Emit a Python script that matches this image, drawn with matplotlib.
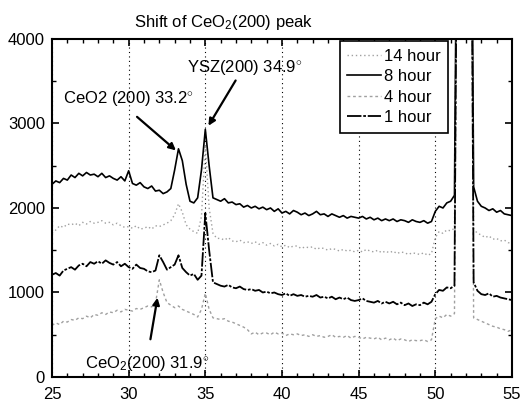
import numpy as np
import matplotlib
matplotlib.use('Agg')
import matplotlib.pyplot as plt
from matplotlib.ticker import MultipleLocator

plt.rcParams['font.family'] = 'Liberation Sans'
plt.rcParams['mathtext.fontset'] = 'custom'
plt.rcParams['mathtext.rm'] = 'Liberation Sans'
plt.rcParams['mathtext.it'] = 'Liberation Sans'

# 2-theta grid (deg), 0.25 deg steps
two_theta = np.arange(25, 55.01, 0.25)

# intensities, 4 values per degree
hour8 = [2280, 2320, 2300, 2350, 2330, 2390, 2360, 2410, 2380, 2420, 2390, 2400,
         2370, 2410, 2360, 2380, 2350, 2330, 2370, 2320, 2440, 2290, 2270, 2300,
         2250, 2230, 2260, 2200, 2210, 2170, 2190, 2230, 2450, 2700, 2560, 2280,
         2080, 2060, 2120, 2450, 2930, 2500, 2120, 2100, 2080, 2110, 2060, 2070,
         2040, 2050, 2010, 2030, 2000, 2020, 1990, 2010, 1980, 2000, 1960, 1990,
         1940, 1960, 1930, 1970, 1950, 1920, 1940, 1910, 1930, 1960, 1920, 1930,
         1900, 1930, 1910, 1890, 1910, 1880, 1900, 1890, 1880, 1900, 1870, 1890,
         1860, 1880, 1850, 1870, 1850, 1870, 1840, 1860, 1850, 1830, 1860, 1840,
         1830, 1850, 1820, 1840, 1960, 2020, 2000, 2060, 2080, 2150, 8000, 40000,
         40000, 9000, 2250, 2080, 2020, 2000, 1970, 1990, 1950, 1970, 1930, 1920,
         1910]
hour14 = [1700, 1740, 1790, 1770, 1810, 1800, 1820, 1790, 1830, 1810, 1840, 1820,
          1830, 1850, 1820, 1830, 1800, 1820, 1790, 1770, 1780, 1760, 1790, 1750,
          1760, 1780, 1750, 1790, 1780, 1800, 1820, 1850, 1920, 2050, 1950, 1800,
          1750, 1720, 1700, 1900, 2750, 2000, 1700, 1640, 1640, 1620, 1650, 1610,
          1600, 1620, 1590, 1600, 1580, 1600, 1570, 1590, 1560, 1580, 1550, 1570,
          1540, 1560, 1530, 1550, 1550, 1520, 1540, 1530, 1540, 1510, 1530, 1520,
          1500, 1520, 1510, 1490, 1510, 1490, 1500, 1480, 1500, 1480, 1510, 1490,
          1480, 1500, 1470, 1490, 1470, 1490, 1460, 1480, 1470, 1450, 1470, 1460,
          1450, 1470, 1440, 1460, 1650, 1720, 1700, 1740, 1730, 1760, 8000, 40000,
          40000, 9000, 1750, 1700, 1680, 1650, 1670, 1630, 1640, 1610, 1620, 1590,
          1580]
hour1 = [1210, 1230, 1200, 1260, 1280, 1300, 1270, 1320, 1340, 1310, 1360, 1340,
         1370, 1340, 1380, 1350, 1330, 1360, 1310, 1340, 1300, 1280, 1330, 1290,
         1280, 1250, 1240, 1260, 1440, 1360, 1270, 1300, 1330, 1440, 1290, 1240,
         1200, 1220, 1150, 1200, 1940, 1500, 1120, 1100, 1080, 1070, 1090, 1060,
         1050, 1070, 1040, 1030, 1040, 1020, 1030, 1000, 1010, 990, 1000, 980,
         970, 990, 960, 980, 960, 970, 950, 960, 950, 970, 940, 950,
         930, 950, 920, 940, 920, 940, 910, 900, 910, 930, 900, 890,
         880, 900, 870, 890, 870, 890, 860, 880, 850, 870, 840, 860,
         850, 880, 860, 890, 980, 1030, 1020, 1060, 1050, 1080, 8000, 40000,
         40000, 9000, 1120, 1020, 980, 970, 990, 950, 960, 940, 930, 920,
         910]
hour4 = [610, 640, 620, 660, 650, 680, 670, 700, 690, 720, 700, 740,
         730, 760, 740, 770, 760, 790, 770, 800, 790, 780, 810, 800,
         820, 840, 830, 870, 1150, 1000, 880, 850, 820, 840, 800, 780,
         760, 740, 710, 800, 990, 800, 700, 690, 680, 690, 660, 650,
         630, 610, 590, 560, 510, 530, 500, 520, 520, 500, 530, 510,
         520, 490, 510, 500, 510, 490, 500, 480, 500, 480, 490, 470,
         480, 500, 470, 480, 470, 490, 460, 480, 470, 450, 470, 460,
         450, 470, 440, 460, 440, 460, 430, 450, 440, 420, 440, 430,
         430, 440, 420, 440, 690, 720, 700, 740, 720, 750, 8000, 40000,
         40000, 9000, 700, 680, 660, 640, 620, 600, 590, 570, 560, 540,
         560]

fig = plt.figure(figsize=(5.23, 4.01), dpi=100)
ax = fig.add_axes([0.0994, 0.0599, 0.8795, 0.8429])

l14, = ax.plot(two_theta, hour14, color='#a0a0a0', lw=1.0, ls=(0, (1, 2)), label='14 hour')
l8, = ax.plot(two_theta, hour8, color='black', lw=1.2, label='8 hour')
l4, = ax.plot(two_theta, hour4, color='#a0a0a0', lw=1.0, ls=(0, (2, 2)), label='4 hour')
l1, = ax.plot(two_theta, hour1, color='black', lw=1.3, ls=(0, (8, 1, 1.5, 1)), label='1 hour')

ax.set_xlim(25, 55)
ax.set_ylim(0, 4000)
ax.xaxis.set_major_locator(MultipleLocator(5))
ax.xaxis.set_minor_locator(MultipleLocator(1))
ax.yaxis.set_major_locator(MultipleLocator(1000))
ax.yaxis.set_minor_locator(MultipleLocator(500))
ax.tick_params(which='both', direction='in', top=True, right=True, labelsize=12)
ax.tick_params(which='major', length=5, width=1.2)
ax.tick_params(which='minor', length=3, width=1.0)
ax.tick_params(axis='x', which='major', pad=7)
ax.tick_params(axis='y', which='major', pad=5)
for s in ax.spines.values():
    s.set_linewidth(1.5)
ax.xaxis.grid(True, which='major', ls=(0, (1, 3)), color='black', lw=0.8)

leg = ax.legend(handles=[l14, l8, l4, l1], loc='upper left', bbox_to_anchor=(0.626, 0.994),
                borderaxespad=0, fancybox=False, edgecolor='black', framealpha=1,
                fontsize=12, handlelength=2.0, handletextpad=0.2, labelspacing=0.33,
                borderpad=0.45)
leg.get_frame().set_linewidth(1.2)

arrow = dict(arrowstyle='-|>', color='black', lw=1.6, mutation_scale=10)
ax.text(25.72, 3300, r'CeO2 (200) 33.2$^{\circ}$', fontsize=12, ha='left', va='center')
ax.annotate('', xy=(33.22, 2660), xytext=(30.41, 3100), arrowprops=arrow)
ax.text(33.81, 3667, r'YSZ(200) 34.9$^{\circ}$', fontsize=12, ha='left', va='center')
ax.annotate('', xy=(35.11, 2945), xytext=(37.07, 3537), arrowprops=arrow)
ax.text(27.15, 165, r'CeO$_2$(200) 31.9$^{\circ}$', fontsize=12, ha='left', va='center')
ax.annotate('', xy=(31.91, 970), xytext=(31.39, 414), arrowprops=arrow)

fig.text(0.428, 0.945, r'Shift of CeO$_2$(200) peak', fontsize=12, ha='center', va='center')

fig.savefig('out.png', dpi=100)
